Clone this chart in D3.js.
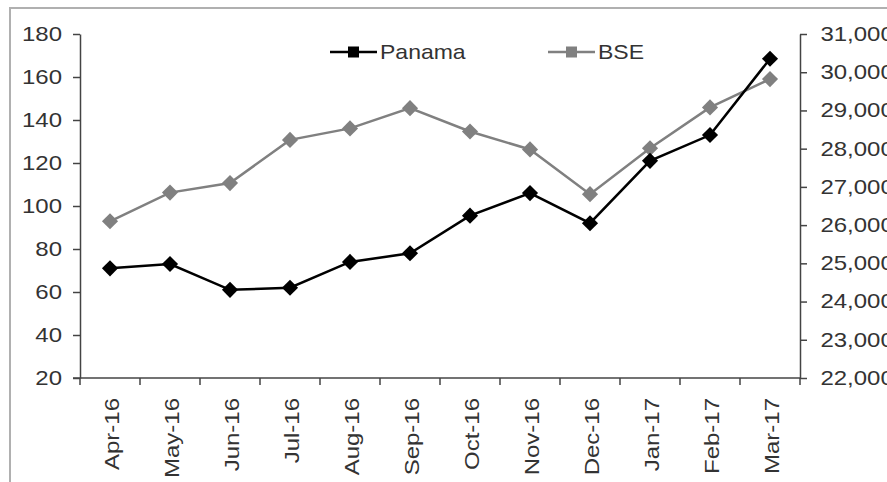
<html>
<head>
    <style>
        body { margin: 0; background: #fff; }
        text { font-family: "Liberation Sans", Arial, sans-serif; fill: #333; }
    </style>
    <script src="https://d3js.org/d3.v7.min.js"></script>
</head>
<body>
    <svg width=887 height=482></svg>
</body>
<script>

    // values
    let months = ["Apr-16", "May-16", "Jun-16", "Jul-16", "Aug-16", "Sep-16",
                  "Oct-16", "Nov-16", "Dec-16", "Jan-17", "Feb-17", "Mar-17"];
    let panama = [71, 73, 61, 62, 74, 78, 95.5, 106, 92, 121, 133, 168.5];
    let bse = [26100, 26850, 27100, 28230, 28530, 29060, 28450, 27980, 26810, 28010, 29080, 29820];
    let leftTicks = [20, 40, 60, 80, 100, 120, 140, 160, 180];
    let rightTicks = [22000, 23000, 24000, 25000, 26000, 27000, 28000, 29000, 30000, 31000];

    let plotLeft = 80, plotRight = 800, plotTop = 34, plotBottom = 378;
    let fontSize = 20;
    // the source text looks stretched along its reading direction
    let stretch = 1.2;

    const svg = d3.select("svg");

    // frame round the chart (cut off on the right and bottom)
    svg.append("rect")
        .attr("x", 10).attr("y", 8)
        .attr("width", 900).attr("height", 500)
        .attr("fill", "none")
        .attr("stroke", "#b0b0b0")
        .attr("stroke-width", 2);

    let x = d3.scaleBand()
        .domain(months)
        .range([plotLeft, plotRight]);

    let yLeft = d3.scaleLinear()
        .domain([20, 180])
        .range([plotBottom, plotTop]);

    let yRight = d3.scaleLinear()
        .domain([22000, 31000])
        .range([plotBottom, plotTop]);

    let axisColor = "#444";

    let stretchText = g => g.selectAll("text")
        .style("font-size", fontSize + "px")
        .attr("transform", `scale(${stretch},1)`);

    // left axis
    svg.append("g")
        .attr("transform", `translate(${plotLeft},0)`)
        .call(d3.axisLeft(yLeft).tickValues(leftTicks).tickSize(7).tickPadding(8).tickSizeOuter(0))
        .call(stretchText);

    // right axis
    svg.append("g")
        .attr("transform", `translate(${plotRight},0)`)
        .call(d3.axisRight(yRight).tickValues(rightTicks).tickSize(7).tickPadding(10).tickSizeOuter(0)
            .tickFormat(d3.format(",")))
        .call(stretchText);

    // bottom axis: ticks on band edges
    let xAxis = svg.append("g")
        .attr("transform", `translate(0,${plotBottom})`);
    xAxis.append("line")
        .attr("x1", plotLeft - 7).attr("x2", plotRight)
        .attr("stroke", axisColor).attr("stroke-width", 1.5);
    xAxis.selectAll("line.tick")
        .data(months.concat(["end"]))
        .join("line")
            .attr("class", "tick")
            .attr("x1", (d, i) => i < months.length ? x(d) : plotRight)
            .attr("x2", (d, i) => i < months.length ? x(d) : plotRight)
            .attr("y1", 0).attr("y2", 7)
            .attr("stroke", axisColor).attr("stroke-width", 1.5);
    xAxis.selectAll("text")
        .data(months)
        .join("text")
            .attr("transform", d => `translate(${x(d) + x.bandwidth() / 2 + 2},20)rotate(-90)scale(${stretch},1)`)
            .attr("text-anchor", "end")
            .attr("dy", "0.35em")
            .style("font-size", fontSize + "px")
            .text(d => d);

    svg.selectAll(".domain, .tick line")
        .attr("stroke", axisColor)
        .attr("stroke-width", 1.5);

    // series
    let cx = (d, i) => x(months[i]) + x.bandwidth() / 2;

    let series = [
        { name: "Panama", values: panama, scale: yLeft, color: "#000" },
        { name: "BSE", values: bse, scale: yRight, color: "#808080" }
    ];

    // BSE drawn first so Panama sits on top
    series.slice().reverse().forEach(s => {
        let line = d3.line()
            .x(cx)
            .y(d => s.scale(d));

        svg.append("path")
            .datum(s.values)
            .attr("d", line)
            .attr("fill", "none")
            .attr("stroke", s.color)
            .attr("stroke-width", 2.5);

        svg.append("g")
            .selectAll("path")
            .data(s.values)
            .join("path")
                .attr("d", d3.symbol(d3.symbolSquare, 130))
                .attr("transform", (d, i) => `translate(${cx(d, i)},${s.scale(d)})rotate(45)`)
                .attr("fill", s.color);
    });

    // legend
    let legendX = [330, 548];
    let legend = svg.append("g")
        .selectAll("g")
        .data(series)
        .join("g")
            .attr("transform", (d, i) => `translate(${legendX[i]},52)`);
    legend.append("line")
        .attr("x1", 0).attr("x2", 47)
        .attr("stroke", d => d.color)
        .attr("stroke-width", 2.5);
    legend.append("rect")
        .attr("x", 18).attr("y", -5.5)
        .attr("width", 11).attr("height", 11)
        .attr("fill", d => d.color);
    legend.append("text")
        .attr("transform", "translate(50,0)scale(1.15,1)")
        .attr("dy", "0.35em")
        .style("font-size", fontSize + "px")
        .text(d => d.name);

</script>
</html>
